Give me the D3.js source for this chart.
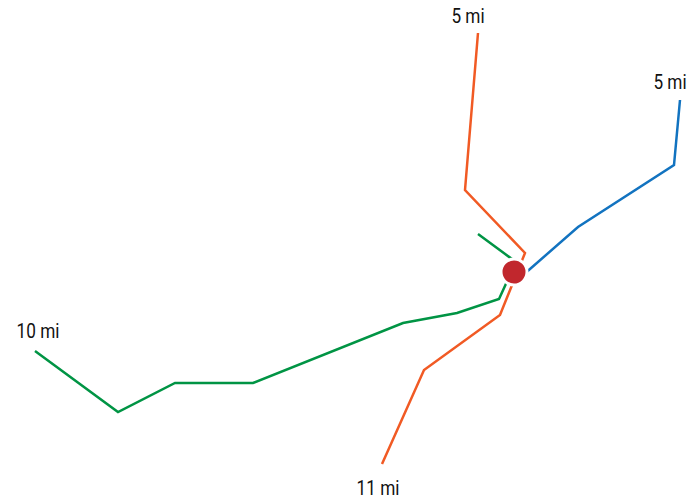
<!DOCTYPE html>
<html>
<head>
<meta charset="utf-8">
<script src="https://cdn.jsdelivr.net/npm/d3@7"></script>
<style>
  body { margin: 0; background: #fff; }
  text { font-family: "Roboto", sans-serif; font-size: 20px; fill: #111; }
</style>
</head>
<body>
<div id="chart"></div>
<script>
// hub position and route vertices, offsets from hub (east, south)
var hub = [0, 0];

var orangeRoute = [[-36, -239], [-49, -82], [11, -19], [-14, 43], [-90, 98], [-132, 192]];
var greenRoute = [[-36, -38], [2, -10], [-15, 27], [-57, 41], [-111, 51], [-261, 111], [-339, 111], [-396, 140], [-479, 79]];
var blueRoute = [[8, 4], [64, -45], [160, -107], [166, -172]];

var routeColors = ["#f15a24", "#009444", "#1273c0"];

// labels at route ends
var labelText = ["5 mi", "11 mi", "10 mi", "5 mi"];
var labelAt = [[-36, -239], [-132, 192], [-479, 79], [166, -172]];
var labelShift = [[-10, -10], [-4, 31], [3, -13], [-10, -11]];

var w = 696, h = 501;

var svg = d3.select("#chart")
  .append("svg")
  .attr("width", w)
  .attr("height", h);

var x = d3.scaleLinear().domain([-514, 182]).range([0, w]);
var y = d3.scaleLinear().domain([-272, 229]).range([0, h]);

var line = d3.line()
  .x(d => x(d[0]))
  .y(d => y(d[1]));

var routes = [orangeRoute, greenRoute, blueRoute];

svg.selectAll("path.route")
  .data(routes)
  .enter()
  .append("path")
  .attr("class", "route")
  .attr("d", line)
  .style("fill", "none")
  .style("stroke", (d, i) => routeColors[i])
  .style("stroke-width", 2.5)
  .style("stroke-linejoin", "miter");

svg.append("circle")
  .attr("cx", x(hub[0]))
  .attr("cy", y(hub[1]))
  .attr("r", 13)
  .style("fill", "#c1272d")
  .style("stroke", "#fff")
  .style("stroke-width", 3);

// narrow the type a bit, the original uses a condensed face
svg.selectAll("text.label")
  .data(labelText)
  .enter()
  .append("text")
  .attr("class", "label")
  .attr("text-anchor", "middle")
  .attr("transform", (d, i) => "translate(" + (x(labelAt[i][0]) + labelShift[i][0]) + "," + (y(labelAt[i][1]) + labelShift[i][1]) + ") scale(0.86,1)")
  .text(d => d);
</script>
</body>
</html>
